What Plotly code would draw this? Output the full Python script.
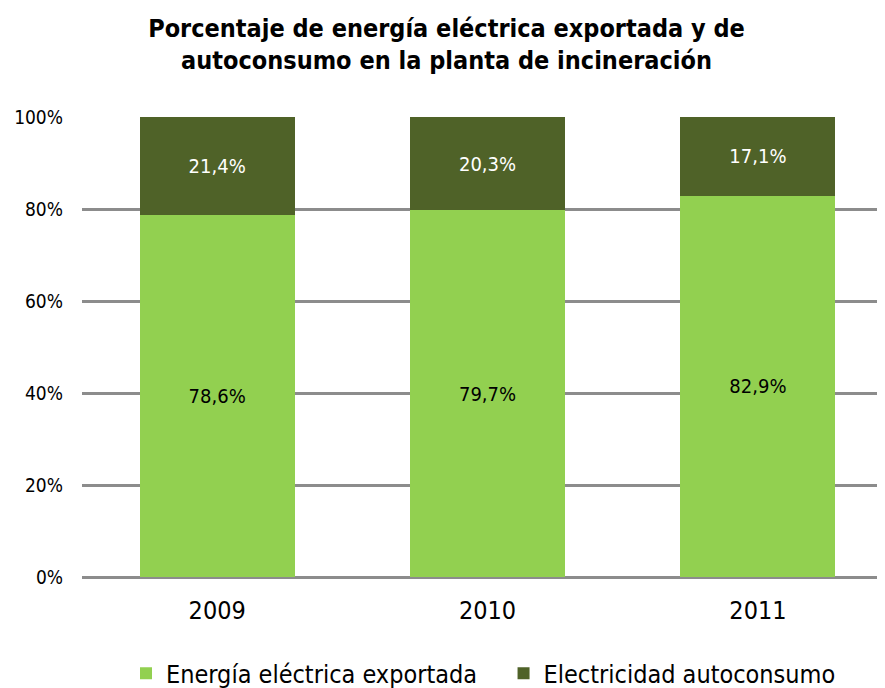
import plotly.graph_objects as go

years = ["2009", "2010", "2011"]
exportada = [78.6, 79.7, 82.9]
autoconsumo = [21.4, 20.3, 17.1]
y_ticks = [0, 20, 40, 60, 80, 100]
y_labels = ["0%", "20%", "40%", "60%", "80%", "100%"]

FONT = "Liberation Sans Narrow, Arial Narrow, DejaVu Sans Condensed, Liberation Sans, sans-serif"


def fmt(v):
    return f"{v:.1f}%".replace(".", ",")


fig = go.Figure()
fig.add_trace(go.Bar(
    x=years, y=exportada, name="Energía eléctrica exportada   ",
    marker=dict(color="#92D050", line=dict(width=0)),
    text=[fmt(v) for v in exportada], textposition="inside",
    insidetextanchor="middle", textfont=dict(color="#000000", size=20),
    width=0.573,
))
fig.add_trace(go.Bar(
    x=years, y=autoconsumo, name="Electricidad autoconsumo",
    marker=dict(color="#4F6228", line=dict(width=0)),
    text=[fmt(v) for v in autoconsumo], textposition="inside",
    insidetextanchor="middle", textfont=dict(color="#ffffff", size=20),
    width=0.573,
))

# the page has an 8px body margin, so the figure is sized 877x680
fig.update_layout(
    barmode="stack",
    width=877, height=680,
    margin=dict(l=74, r=0, t=109, b=111, autoexpand=False),
    paper_bgcolor="white", plot_bgcolor="white",
    font=dict(family=FONT, color="#000000"),
    title=dict(
        text="<b>Porcentaje de energía eléctrica exportada y de<br>autoconsumo en la planta de incineración</b>",
        x=0.5, xanchor="center", y=0.958, yanchor="top",
        font=dict(size=25, family=FONT),
    ),
    showlegend=True,
    legend=dict(
        orientation="h", x=0.5, xanchor="center", y=-0.16, yanchor="top",
        font=dict(size=25), traceorder="normal",
    ),
    xaxis=dict(
        range=[-0.5, 2.47], showgrid=False, showline=False, ticks="",
        tickfont=dict(size=25), automargin=False, ticklabelstandoff=16,
    ),
    yaxis=dict(
        range=[0, 100], tickvals=y_ticks, ticktext=y_labels,
        showgrid=True, gridcolor="#8C8C8C", gridwidth=3,
        zeroline=True, zerolinecolor="#8C8C8C", zerolinewidth=3,
        tickfont=dict(size=19), ticks="", ticklabelstandoff=18,
        automargin=False,
    ),
)

fig.write_html("out.html")
